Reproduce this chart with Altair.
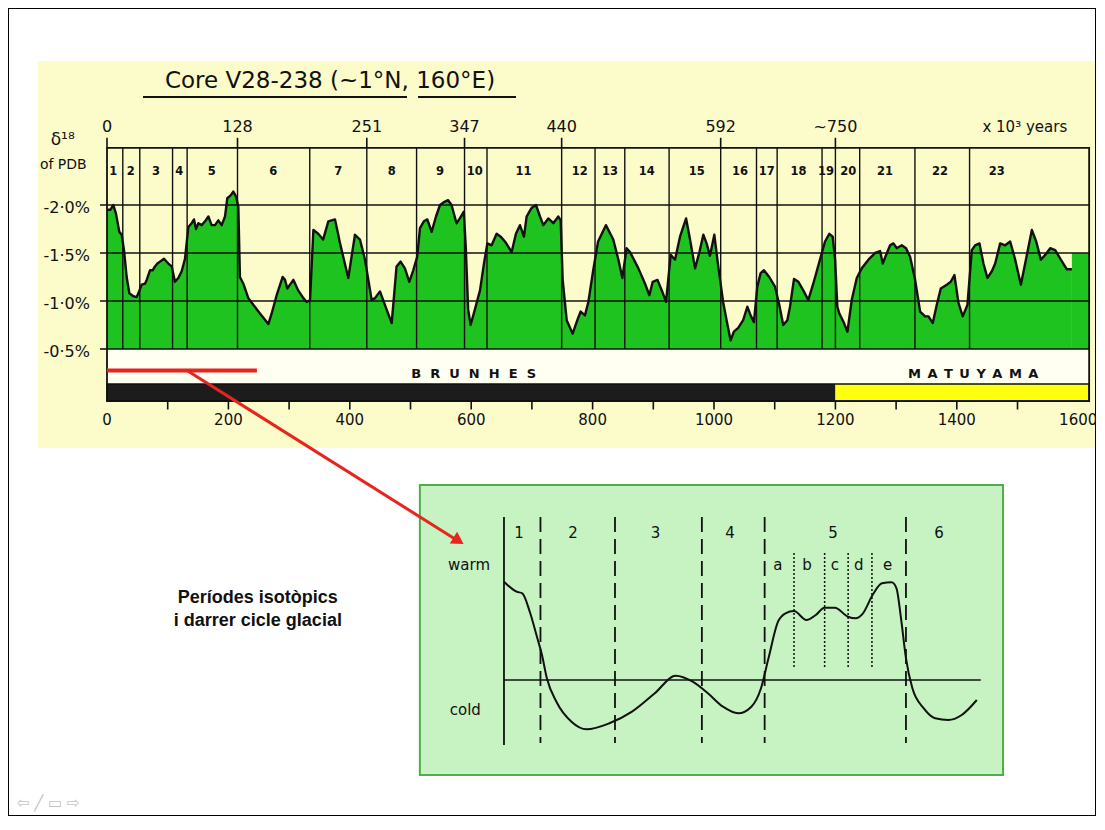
import altair as alt
import pandas as pd

# ---------------- top chart data (core V28-238) ----------------
CORE_DEPTH = [0, 5.5, 10.4, 14.8, 20.3, 24.2, 28, 32.4, 36.8, 43.4, 48.9, 51.6, 57.1, 62.6, 65.4,
              70.8, 75.2, 79, 83, 87.3, 93.9, 101, 106.6, 112, 117.5, 123, 128.5, 134, 139.5,
              143.3, 146.6, 150.5, 156, 161.5, 167, 172.4, 177.9, 183.4, 188.9, 194.4, 198.2,
              203.7, 208, 212.5, 216.4, 219, 224.6, 232.8, 241, 252, 265.8, 271.3, 279.5, 289.4,
              293.3, 297, 301.5, 307, 315, 323.5, 329, 334.5, 340, 348, 356, 364.6, 375.6, 381,
              383.9, 397.5, 408.5, 416.7, 425, 436, 441.5, 449.7, 460.7, 469, 477, 483.7, 490.8,
              498, 504.5, 511, 515.6, 522, 527.7, 534.8, 542, 548.6, 555, 562, 567.6, 575.8,
              581.3, 587.8, 591, 595, 599, 606, 614.5, 621, 626.6, 633.6, 641.9, 648.5, 655.6,
              666.6, 673.7, 680.3, 686.9, 691.3, 699.5, 706.7, 713.3, 718.8, 727, 735.3, 743.5,
              747.4, 750.7, 757.3, 767.1, 774.8, 780.3, 787.4, 793, 801, 809, 821.9, 834, 842.5,
              849, 856, 861.6, 875.4, 886.4, 893.5, 899, 906.9, 914, 921, 928.6, 935.8, 944, 954,
              960.5, 968.8, 976, 982.4, 987.8, 993.3, 1000.5, 1007, 1015, 1020.7, 1027.3, 1032.7,
              1039.9, 1048, 1054.9, 1060.3, 1065.8, 1071.3, 1076.8, 1082.3, 1091, 1100.4, 1107.5,
              1114, 1120.8, 1125.2, 1131.8, 1139, 1148, 1155.3, 1163.5, 1174.5, 1182.9, 1190,
              1195.5, 1199.5, 1203.2, 1206.5, 1214.2, 1219.8, 1226.9, 1235.2, 1243.4, 1254.4,
              1265.4, 1273.6, 1278, 1283.5, 1290.1, 1295.6, 1301, 1309.3, 1316.4, 1323, 1331.3,
              1339.5, 1347.8, 1353.3, 1360.4, 1367, 1373.6, 1383.5, 1390, 1396.1, 1402.7, 1409.8,
              1417.5, 1424.7, 1430.1, 1437.3, 1443.9, 1450.5, 1457.7, 1463.2, 1471.4, 1479.7,
              1487.9, 1496.2, 1505.5, 1512.6, 1523.6, 1530.8, 1538.5, 1545.6, 1553.9, 1562.1,
              1571.4, 1581.3, 1589.6]
CORE_D18O = [-1.95, -1.95, -2.0, -1.91, -1.72, -1.69, -1.53, -1.25, -1.08, -1.05, -1.04, -1.08, -1.17,
             -1.18, -1.22, -1.32, -1.32, -1.36, -1.39, -1.41, -1.44, -1.39, -1.36, -1.20, -1.24,
             -1.31, -1.44, -1.77, -1.81, -1.85, -1.75, -1.81, -1.79, -1.83, -1.88, -1.79, -1.79,
             -1.84, -1.79, -1.88, -2.07, -2.10, -2.14, -2.09, -1.98, -1.25, -1.18, -1.03, -0.96,
             -0.87, -0.76, -0.87, -1.06, -1.25, -1.22, -1.13, -1.17, -1.22, -1.11, -1.03, -0.99,
             -1.01, -1.74, -1.70, -1.64, -1.83, -1.85, -1.69, -1.60, -1.24, -1.69, -1.64, -1.43,
             -1.01, -1.03, -1.10, -0.91, -0.77, -1.36, -1.41, -1.34, -1.20, -1.32, -1.46, -1.76,
             -1.83, -1.85, -1.72, -1.88, -2.0, -2.03, -2.05, -2.0, -1.81, -1.86, -1.93, -1.57,
             -0.91, -0.75, -0.91, -1.11, -1.39, -1.60, -1.58, -1.70, -1.67, -1.62, -1.51, -1.70,
             -1.79, -1.67, -1.88, -1.97, -2.0, -1.88, -1.79, -1.86, -1.81, -1.88, -1.84, -1.22,
             -0.80, -0.66, -0.80, -0.89, -0.85, -0.99, -1.32, -1.62, -1.79, -1.64, -1.43, -1.24,
             -1.55, -1.51, -1.34, -1.18, -1.06, -1.20, -1.22, -1.11, -0.99, -1.48, -1.43, -1.67,
             -1.86, -1.64, -1.34, -1.51, -1.69, -1.60, -1.47, -1.69, -1.36, -0.99, -0.80, -0.59,
             -0.68, -0.72, -0.80, -0.94, -0.85, -0.78, -1.15, -1.29, -1.32, -1.25, -1.15, -0.96,
             -0.75, -0.80, -0.94, -1.23, -1.20, -1.10, -1.01, -1.18, -1.43, -1.62, -1.70, -1.67,
             -1.43, -0.94, -0.87, -0.77, -0.68, -1.01, -1.24, -1.34, -1.43, -1.50, -1.52, -1.39,
             -1.48, -1.58, -1.60, -1.55, -1.58, -1.55, -1.46, -1.22, -0.89, -0.84, -0.84, -0.77,
             -0.96, -1.13, -1.17, -1.20, -1.27, -0.98, -0.84, -0.96, -1.53, -1.58, -1.60, -1.39,
             -1.24, -1.31, -1.39, -1.60, -1.58, -1.62, -1.43, -1.17, -1.39, -1.74, -1.62, -1.43,
             -1.48, -1.55, -1.53, -1.43, -1.33, -1.33]
CORE_END_FILL = [1589.6, 1618, -1.5]   # green block after the last sample: from, to, level

STAGE_BOUNDS = [26, 54, 108, 132, 215, 334, 428, 510, 589, 626, 749, 804, 853, 926, 1011, 1070,
                1104, 1178, 1200, 1240, 1331, 1421]
STAGE_NAMES = [str(i) for i in range(1, 24)]
STAGE_LABEL_DEPTH = [10.4, 39, 80.7, 119, 172.4, 274, 381, 469, 548.6, 606, 686, 779, 828.7, 889,
                     971.5, 1042.8, 1086.8, 1139, 1184.5, 1221, 1281.7, 1372.3, 1465.7]
AGE_LABELS = ["0", "128", "251", "347", "440", "592", "~750"]
AGE_DEPTH = [0, 215, 428, 589, 749, 1011, 1200]
Y_TICKS = [-2.0, -1.5, -1.0, -0.5]
Y_TICK_LABELS = ["-2·0%", "-1·5%", "-1·0%", "-0·5%"]
DEPTH_TICKS = [100, 200, 300, 400, 500, 600, 700, 800, 900, 1000, 1100, 1200, 1300, 1400, 1500]
DEPTH_LABELS = [0, 200, 400, 600, 800, 1000, 1200, 1400, 1600]
POLARITY_NAMES = ["B\u2007R\u2007U\u2007N\u2007H\u2007E\u2007S",
                  "M\u2002A\u2002T\u2002U\u2002Y\u2002A\u2002M\u2002A"]
POLARITY_FROM = [0, 1200]
POLARITY_TO = [1200, 1618]
POLARITY_COLOR = ["#1c1c1c", "#ffff10"]
POLARITY_LABEL_DEPTH = [604, 1427]
CORE_LEN = 1618
RED_SPAN = [0, 247]

# ---------------- inset data (last glacial cycle) ----------------
INSET_T = [0, 4.07, 5.92, 8.34, 10.8, 12.29, 13.87, 16.95, 21.83, 26.75, 34.09, 41.4, 48.77,
           55.53, 61.03, 65.94, 70.83, 75.74, 80.01, 83.12, 85.54, 88.62, 91.04, 93.79, 97.8,
           100.84, 103.65, 106.99, 111.25, 113.71, 116.1, 119.21, 122.25, 125.36, 126.94,
           128.4, 130.01, 132.08, 135.77, 139.46, 143.73, 148.03, 152.91]
INSET_U = [9.83, 8.83, 8.67, 6.83, 4.17, 2.5, 0.17, -2.17, -4.17, -4.93, -4.33, -3.17, -1.33,
           0.43, -0.17, -1.33, -2.67, -3.33, -2.67, -0.83, 2.17, 5.83, 6.67, 6.9, 6.0, 6.5,
           7.23, 7.23, 6.33, 6.17, 6.67, 8.5, 9.67, 9.77, 9.17, 6.17, 2.17, -0.83, -2.83,
           -3.83, -4.0, -3.5, -2.0]
INSET_DASHED = [11.8, 35.9, 64.0, 84.3, 130.0]
INSET_DOTTED = [93.8, 103.7, 111.3, 119.0]
INSET_STAGES = ["1", "2", "3", "4", "5", "6"]
INSET_STAGE_T = [4.85, 22.3, 49.0, 73.1, 106.4, 140.7]
INSET_SUBS = ["a", "b", "c", "d", "e"]
INSET_SUB_T = [88.6, 98.0, 107.0, 114.7, 124.1]

# ---------------- scales ----------------
W, H = 1088, 808
XT = [-163.1, 1629.3]
YT = [-4.052, 4.3646]
XI = [-160.4, 191.46]
YI = [-13.6, 67.2]
GREEN = "#1fc31f"
CREAM = "#fcfbca"
RED = "#e8241e"
FONT = "DejaVu Sans"


def xt(f):
    return alt.X(f, type="quantitative", scale=alt.Scale(domain=XT, nice=False, zero=False), axis=None)


def yt(f):
    return alt.Y(f, type="quantitative",
                 scale=alt.Scale(domain=YT, nice=False, zero=False, reverse=True), axis=None)


def xi(f):
    return alt.X(f, type="quantitative", scale=alt.Scale(domain=XI, nice=False, zero=False), axis=None)


def yi(f):
    return alt.Y(f, type="quantitative", scale=alt.Scale(domain=YI, nice=False, zero=False), axis=None)


def df(**cols):
    return pd.DataFrame(cols)


def trect(d, d2, v, v2, **kw):
    return alt.Chart(df(d=[d], d2=[d2], v=[v], v2=[v2])).mark_rect(**kw).encode(
        x=xt("d"), x2="d2:Q", y=yt("v"), y2="v2:Q")


def ttext(d, v, label, **kw):
    return alt.Chart(df(d=[d], v=[v], label=[label])).mark_text(**kw).encode(
        x=xt("d"), y=yt("v"), text="label:N")


# ---------------- top figure ----------------
FRAME_TOP = -2.594
BOT = -0.5
BAR_TOP, BAR_BOT = -0.135, 0.042

top = []
top.append(trect(-113.7, 1627.7, -3.5, 0.531, color=CREAM))
top.append(trect(0, CORE_LEN, BOT, BAR_TOP, color="#fffff2"))

core = df(d=CORE_DEPTH, v=CORE_D18O, base=[BOT] * len(CORE_DEPTH))
top.append(alt.Chart(core).mark_area(color=GREEN).encode(x=xt("d"), y=yt("v"), y2="base:Q"))
top.append(trect(CORE_END_FILL[0], CORE_END_FILL[1], CORE_END_FILL[2], BOT, color=GREEN))

grid = df(d=[-11.5] * 3, d2=[CORE_LEN] * 3, v=Y_TICKS[:3])
top.append(alt.Chart(grid).mark_rule(color="#111", strokeWidth=1.6).encode(
    x=xt("d"), x2="d2:Q", y=yt("v")))
top.append(alt.Chart(df(d=[-11.5], d2=[0], v=[BOT])).mark_rule(color="#111", strokeWidth=1.6).encode(
    x=xt("d"), x2="d2:Q", y=yt("v")))

bounds = df(d=STAGE_BOUNDS, v=[FRAME_TOP] * len(STAGE_BOUNDS), v2=[BOT] * len(STAGE_BOUNDS))
top.append(alt.Chart(bounds).mark_rule(color="#111", strokeWidth=1.4).encode(
    x=xt("d"), y=yt("v"), y2="v2:Q"))
ages = df(d=AGE_DEPTH, v=[FRAME_TOP] * len(AGE_DEPTH), v2=[-2.70] * len(AGE_DEPTH),
          lv=[-2.8125] * len(AGE_DEPTH), label=AGE_LABELS)
top.append(alt.Chart(ages).mark_rule(color="#111", strokeWidth=1.6).encode(
    x=xt("d"), y=yt("v"), y2="v2:Q"))
top.append(alt.Chart(ages).mark_text(font=FONT, fontSize=16, color="#111", baseline="middle").encode(
    x=xt("d"), y=yt("lv"), text="label:N"))

stages = df(d=STAGE_LABEL_DEPTH, v=[-2.344] * len(STAGE_NAMES), label=STAGE_NAMES)
top.append(alt.Chart(stages).mark_text(font=FONT, fontSize=11.5, fontWeight="bold", color="#111",
                                       baseline="middle").encode(x=xt("d"), y=yt("v"), text="label:N"))

top.append(alt.Chart(core).mark_line(color="#111", strokeWidth=2.4, strokeJoin="round").encode(
    x=xt("d"), y=yt("v")))

# polarity bar
pol = df(d=POLARITY_FROM, d2=POLARITY_TO, v=[BAR_TOP] * 2, v2=[BAR_BOT] * 2, c=POLARITY_COLOR,
         label=POLARITY_NAMES, ld=POLARITY_LABEL_DEPTH, lv=[-0.24] * 2)
top.append(alt.Chart(pol).mark_rect().encode(x=xt("d"), x2="d2:Q", y=yt("v"), y2="v2:Q",
                                             color=alt.Color("c:N", scale=None)))
top.append(alt.Chart(pol).mark_text(font=FONT, fontSize=13, fontWeight="bold", color="#111",
                                    baseline="middle").encode(x=xt("ld"), y=yt("lv"), text="label:N"))
top.append(trect(0, CORE_LEN, BAR_TOP, BAR_BOT, fillOpacity=0, stroke="#111", strokeWidth=1.5))
top.append(trect(0, CORE_LEN, FRAME_TOP, BAR_BOT, fillOpacity=0, stroke="#111", strokeWidth=1.8))
top.append(alt.Chart(df(d=[0], d2=[CORE_LEN], v=[BOT])).mark_rule(color="#111", strokeWidth=1.6).encode(
    x=xt("d"), x2="d2:Q", y=yt("v")))

# red marker of the last glacial cycle
top.append(alt.Chart(df(d=[RED_SPAN[0]], d2=[RED_SPAN[1]], v=[-0.276])).mark_rule(
    color=RED, strokeWidth=4).encode(x=xt("d"), x2="d2:Q", y=yt("v")))

# depth axis
ticks = df(d=DEPTH_TICKS, v=[BAR_BOT] * len(DEPTH_TICKS), v2=[0.13] * len(DEPTH_TICKS))
top.append(alt.Chart(ticks).mark_rule(color="#111", strokeWidth=1.6).encode(
    x=xt("d"), y=yt("v"), y2="v2:Q"))
dl = df(d=DEPTH_LABELS, v=[0.24] * len(DEPTH_LABELS), label=[str(v) for v in DEPTH_LABELS])
top.append(alt.Chart(dl).mark_text(font=FONT, fontSize=15, color="#111", baseline="middle").encode(
    x=xt("d"), y=yt("v"), text="label:N"))

# delta axis
yl = df(d=[-28] * 4, v=[t + 0.03 for t in Y_TICKS], label=Y_TICK_LABELS)
top.append(alt.Chart(yl).mark_text(font=FONT, fontSize=16, color="#111", align="right",
                                   baseline="middle").encode(x=xt("d"), y=yt("v"), text="label:N"))
top.append(ttext(-73, -2.677, "δ¹⁸", font=FONT, fontSize=17, color="#111", baseline="middle"))
top.append(ttext(-72, -2.417, "of PDB", font=FONT, fontSize=14, color="#111", baseline="middle"))
top.append(ttext(1512, -2.8125, "x 10³ years", font=FONT, fontSize=15,
                 color="#111", baseline="middle"))

# title
top.append(ttext(367.4, -3.29, "Core V28-238 (~1°N, 160°E)", font=FONT, fontSize=23,
                 color="#111", baseline="middle"))
und = df(d=[59.3, 512.4], d2=[494.2, 673.8], v=[-3.125, -3.125])
top.append(alt.Chart(und).mark_rule(color="#111", strokeWidth=2).encode(
    x=xt("d"), x2="d2:Q", y=yt("v")))

# arrow to the inset
top.append(alt.Chart(df(d=[131.8], d2=[573.3], v=[-0.276], v2=[1.479])).mark_rule(
    color=RED, strokeWidth=3).encode(x=xt("d"), x2="d2:Q", y=yt("v"), y2="v2:Q"))
top.append(alt.Chart(df(d=[579.1], v=[1.498])).mark_point(
    shape="triangle-right", filled=True, color=RED, opacity=1, size=190, angle=32).encode(
    x=xt("d"), y=yt("v")))

# ---------------- inset ----------------
ins = []


def irect(t, t2, u, u2, **kw):
    return alt.Chart(df(t=[t], t2=[t2], u=[u], u2=[u2])).mark_rect(**kw).encode(
        x=xi("t"), x2="t2:Q", y=yi("u"), y2="u2:Q")


ins.append(irect(-27.2, 161.4, 19.5, -9.5, color="#c7f2c1", stroke="#4fae4c", strokeWidth=2))
ins.append(alt.Chart(df(t=[0], u=[16.3], u2=[-6.5])).mark_rule(color="#111", strokeWidth=1.8).encode(
    x=xi("t"), y=yi("u"), y2="u2:Q"))
dsh = df(t=INSET_DASHED, u=[16.3] * len(INSET_DASHED), u2=[-6.3] * len(INSET_DASHED))
ins.append(alt.Chart(dsh).mark_rule(color="#111", strokeWidth=1.8, strokeDash=[15, 7]).encode(
    x=xi("t"), y=yi("u"), y2="u2:Q"))
dot = df(t=INSET_DOTTED, u=[12.7] * len(INSET_DOTTED), u2=[1.3] * len(INSET_DOTTED))
ins.append(alt.Chart(dot).mark_rule(color="#111", strokeWidth=1.5, strokeDash=[2, 2]).encode(
    x=xi("t"), y=yi("u"), y2="u2:Q"))
ins.append(alt.Chart(df(t=[0], t2=[154.2], u=[0])).mark_rule(color="#111", strokeWidth=1.5).encode(
    x=xi("t"), x2="t2:Q", y=yi("u")))
icurve = df(t=INSET_T, u=INSET_U)
ins.append(alt.Chart(icurve).mark_line(color="#111", strokeWidth=2, interpolate="monotone").encode(
    x=xi("t"), y=yi("u")))
ist = df(t=INSET_STAGE_T, u=[14.7] * 6, label=INSET_STAGES)
ins.append(alt.Chart(ist).mark_text(font=FONT, fontSize=15, color="#111", baseline="middle").encode(
    x=xi("t"), y=yi("u"), text="label:N"))
isb = df(t=INSET_SUB_T, u=[11.5] * 5, label=INSET_SUBS)
ins.append(alt.Chart(isb).mark_text(font=FONT, fontSize=15, color="#111", baseline="middle").encode(
    x=xi("t"), y=yi("u"), text="label:N"))
wc = df(t=[-11.3, -12.5], u=[11.5, -3.0], label=["warm", "cold"])
ins.append(alt.Chart(wc).mark_text(font=FONT, fontSize=15, color="#111", baseline="middle").encode(
    x=xi("t"), y=yi("u"), text="label:N"))
lt = df(t=[-79.6, -79.6], u=[8.2, 5.9], label=["Períodes isotòpics", "i darrer cicle glacial"])
ins.append(alt.Chart(lt).mark_text(font="Liberation Sans", fontSize=18, fontWeight="bold",
                                   color="#111", baseline="middle").encode(
    x=xi("t"), y=yi("u"), text="label:N"))
ins.append(alt.Chart(df(t=[-157.5], u=[-12.3], label=["⇦   ╱   ▭   ⇨"])).mark_text(
    font=FONT, fontSize=15, color="#c4c4c4", align="left", baseline="middle").encode(
    x=xi("t"), y=yi("u"), text="label:N"))

chart = alt.layer(alt.layer(*ins), alt.layer(*top)).resolve_scale(
    x="independent", y="independent").properties(
    width=W, height=H, padding=0, background="white",
    autosize=alt.AutoSizeParams(type="none")).configure_view(stroke="black", strokeWidth=2)

chart.save("out.html", embed_options={"renderer": "svg", "actions": False})
